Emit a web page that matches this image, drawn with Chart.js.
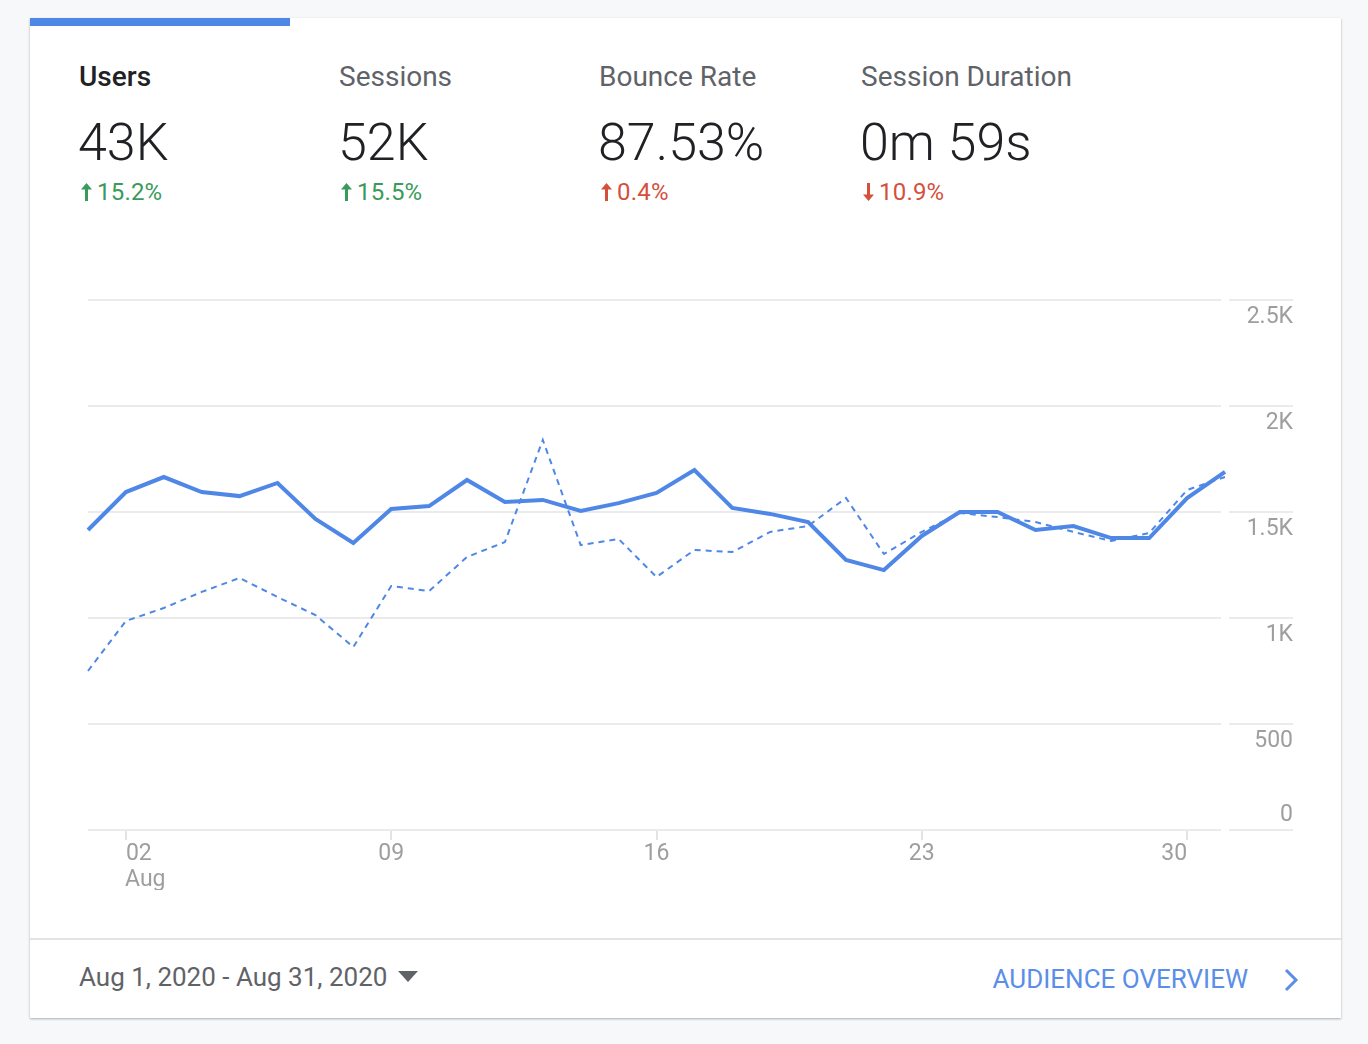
<!DOCTYPE html>
<html>
<head>
<meta charset="utf-8">
<script src="https://cdn.jsdelivr.net/npm/chart.js@4.4.1/dist/chart.umd.min.js"></script>
<style>
  body { margin: 0; background: #f7f8fa; font-family: Roboto, "Noto Sans", sans-serif; }
  .card { position: absolute; left: 30px; top: 18px; width: 1311px; height: 1000px; background: #fff;
          box-shadow: 0 1px 2px rgba(0,0,0,0.25), 0 1px 3px rgba(0,0,0,0.08); }
  .bar { position: absolute; left: 0; top: 0; width: 260px; height: 8px; background: #4f87e7; }
  .metric { position: absolute; top: 0; }
  .metric .label { position: absolute; top: 45px; left: 0; font-size: 28px; line-height: 28px; color: #5f6368; white-space: nowrap; }
  .metric .label.on { color: #202124; font-weight: 500; }
  .metric .value { position: absolute; top: 99px; left: -1px; font-size: 52px; line-height: 52px; font-weight: 300; color: #202124; white-space: nowrap; }
  .metric .delta { position: absolute; top: 162px; left: 2px; font-size: 24px; line-height: 24px; white-space: nowrap; letter-spacing: 0.2px; }
  .delta svg { vertical-align: -1px; margin-right: 5px; }
  .up { color: #3a9a5b; }
  .bad { color: #d4503c; }
  .sep { position: absolute; left: 0; top: 920px; width: 1311px; height: 2px; background: #e3e3e3; }
  .range { position: absolute; left: 49px; top: 946px; font-size: 26px; line-height: 26px; color: #5f6368; }
  .range svg { margin-left: 11px; vertical-align: 4px; }
  .link { position: absolute; right: 93px; top: 948px; font-size: 26px; line-height: 26px; color: #5a8ee8; }
  .chev { position: absolute; left: 1253px; top: 950px; }
  #wrap { position: absolute; left: 70px; top: 280px; width: 1260px; height: 630px; }
</style>
</head>
<body>
<div class="card">
  <div class="bar"></div>
  <div class="metric" style="left:49px"><div class="label on">Users</div><div class="value">43K</div>
    <div class="delta up"><svg width="11" height="18" viewBox="0 0 11 18"><path d="M5.5 0 L11 6.5 H7 V18 H4 V6.5 H0 Z" fill="currentColor"/></svg>15.2%</div></div>
  <div class="metric" style="left:309px"><div class="label">Sessions</div><div class="value">52K</div>
    <div class="delta up"><svg width="11" height="18" viewBox="0 0 11 18"><path d="M5.5 0 L11 6.5 H7 V18 H4 V6.5 H0 Z" fill="currentColor"/></svg>15.5%</div></div>
  <div class="metric" style="left:569px"><div class="label">Bounce Rate</div><div class="value">87.53%</div>
    <div class="delta bad"><svg width="11" height="18" viewBox="0 0 11 18"><path d="M5.5 0 L11 6.5 H7 V18 H4 V6.5 H0 Z" fill="currentColor"/></svg>0.4%</div></div>
  <div class="metric" style="left:831px"><div class="label">Session Duration</div><div class="value">0m 59s</div>
    <div class="delta bad"><svg width="11" height="18" viewBox="0 0 11 18"><path d="M5.5 18 L11 11.5 H7 V0 H4 V11.5 H0 Z" fill="currentColor"/></svg>10.9%</div></div>
  <div class="sep"></div>
  <div class="range">Aug 1, 2020 - Aug 31, 2020<svg width="20" height="11" viewBox="0 0 20 11"><path d="M0 0 H20 L10 11 Z" fill="#5f6368"/></svg></div>
  <div class="link">AUDIENCE OVERVIEW</div>
  <svg class="chev" width="16" height="24" viewBox="0 0 16 24"><path d="M3 2 L13 12 L3 22" fill="none" stroke="#5a8ee8" stroke-width="3"/></svg>
</div>
<div id="wrap"><canvas id="chart" width="1260" height="630"></canvas></div>
<script>
// ========= DATA ========= //
const days = ['01','02','03','04','05','06','07','08','09','10','11','12','13','14','15','16',
              '17','18','19','20','21','22','23','24','25','26','27','28','29','30','31'];

// users, Aug 2020 (solid)
const usersThis = [1415, 1594, 1665, 1594, 1575, 1637, 1467, 1354, 1514, 1528, 1651, 1547, 1557, 1505, 1542, 1590,
                   1698, 1519, 1491, 1453, 1274, 1226, 1387, 1500, 1500, 1415, 1434, 1377, 1377, 1566, 1689];

// users, previous period (dashed)
const usersPrev = [750, 986, 1047, 1123, 1189, 1099, 1014, 863, 1151, 1127, 1288, 1358, 1840, 1344, 1373, 1193,
                   1321, 1311, 1406, 1434, 1566, 1302, 1406, 1495, 1476, 1453, 1406, 1363, 1401, 1604, 1665];

// x tick labels (only these days get a label); figure spaces keep the edge labels inside
const xTickIndex = [1, 8, 15, 22, 29];
const xTickText = [['\u2007\u200702', '\u2007\u2007\u2007Aug'], '09', '16', '23', '30\u2007\u2007'];

const yTickValues = [0, 500, 1000, 1500, 2000, 2500];
const yTickText = ['0', '500', '1K', '1.5K', '2K', '2.5K'];

const BLUE = '#4f87e7';
const GRID = '#ebebeb';
const TICK = '#9e9e9e';

// ========= CHART ========= //
new Chart(document.getElementById('chart'), {
    type: 'line',
    data: {
        labels: days,
        datasets: [
            { label: 'Users', data: usersThis, borderColor: BLUE, borderWidth: 4, pointRadius: 0, tension: 0, order: 0 },
            { label: 'Previous period', data: usersPrev, borderColor: BLUE, borderWidth: 2, borderDash: [6, 5], pointRadius: 0, tension: 0, order: 1 }
        ]
    },
    options: {
        responsive: false,
        animation: false,
        layout: { padding: { left: 18, top: 20, right: 37, bottom: 20 } },
        plugins: { legend: { display: false }, tooltip: { enabled: false } },
        scales: {
            x: {
                grid: {
                    drawOnChartArea: false,
                    tickLength: 10,
                    lineWidth: 2,
                    tickColor: ctx => xTickIndex.includes(ctx.index) ? '#e3e3e3' : 'rgba(0,0,0,0)'
                },
                border: { display: false },
                ticks: {
                    autoSkip: false,
                    maxRotation: 0,
                    padding: 2,
                    color: TICK,
                    font: { family: 'Roboto', size: 23, lineHeight: 1.1 },
                    callback: (v, i) => {
                        const k = xTickIndex.indexOf(i);
                        return k < 0 ? '' : xTickText[k];
                    }
                },
                afterFit: s => { s.height = 60; }
            },
            y: {
                position: 'right',
                min: 0,
                max: 2500,
                afterBuildTicks: s => { s.ticks = yTickValues.map(v => ({ value: v })); },
                grid: { color: GRID, lineWidth: 2, tickLength: 68 },
                border: { display: true, width: 8, color: 'rgba(0,0,0,0)' },
                ticks: {
                    color: TICK,
                    crossAlign: 'far',
                    padding: -46,
                    labelOffset: 17,
                    font: ctx => ({ family: 'Roboto', size: 23, lineHeight: ctx.tick && ctx.tick.value === 0 ? '32px' : 1.2 }),
                    callback: (v, i) => {
                        const t = yTickText[yTickValues.indexOf(v)];
                        return v === 0 ? [t, '', ''] : t;
                    }
                },
                afterFit: s => { s.width = 68; }
            }
        }
    }
});
</script>
</body>
</html>
